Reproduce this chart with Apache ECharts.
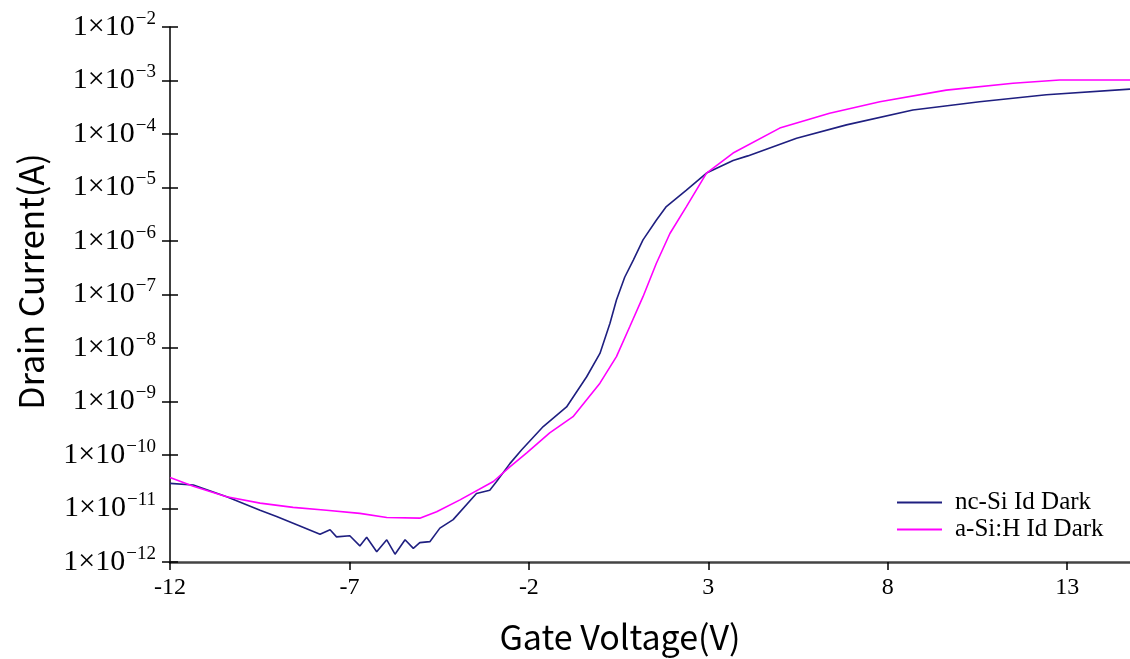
<!DOCTYPE html>
<html>
<head>
<meta charset="utf-8">
<script src="https://cdn.jsdelivr.net/npm/echarts@6/dist/echarts.min.js"></script>
<style>
  html, body { margin: 0; padding: 0; background: #fff; }
  #chart { width: 1130px; height: 659px; }
</style>
</head>
<body>
<div id="chart"></div>
<script>
// gate voltage (V) and drain current (A)
const ncSiVg = [-12, -11.35, -10.42, -9.49, -9.03, -8.38, -7.82, -7.54, -7.36, -6.99, -6.71, -6.52, -6.24,
  -5.96, -5.73, -5.45, -5.22, -5.04, -4.76, -4.48, -4.11, -3.46, -3.09, -2.9, -2.53, -2.2, -1.6, -0.95,
  -0.39, -0.02, 0.26, 0.44, 0.67, 0.91, 1.18, 1.55, 1.83, 2.39, 2.95, 3.69, 4.1, 5.46, 6.85, 8.7, 10.56,
  12.42, 14.75];
const ncSiId = [2.95e-11, 2.75e-11, 1.66e-11, 9.3e-12, 7.1e-12, 4.7e-12, 3.3e-12, 4.0e-12, 2.95e-12, 3.1e-12,
  2.0e-12, 2.9e-12, 1.55e-12, 2.6e-12, 1.4e-12, 2.6e-12, 1.8e-12, 2.3e-12, 2.4e-12, 4.3e-12, 6.2e-12,
  1.9e-11, 2.2e-11, 3.2e-11, 6.9e-11, 1.25e-10, 3.4e-10, 7.9e-10, 2.9e-9, 7.9e-9, 2.9e-8, 7.9e-8, 2.1e-7,
  4.4e-7, 1.05e-6, 2.45e-6, 4.4e-6, 8.9e-6, 1.86e-5, 3.2e-5, 3.9e-5, 8.3e-5, 1.48e-4, 2.8e-4, 4.0e-4,
  5.4e-4, 6.9e-4];

const aSiVg = [-12, -11.35, -10.42, -9.49, -8.57, -7.64, -6.71, -5.96, -5.04, -4.57, -3.92, -2.99, -2.53,
  -2.06, -1.42, -0.77, -0.02, 0.44, 0.81, 1.18, 1.55, 1.93, 2.39, 2.95, 3.69, 4.99, 6.38, 7.78, 9.63,
  11.49, 12.79, 14.75];
const aSiId = [3.8e-11, 2.6e-11, 1.66e-11, 1.26e-11, 1.05e-11, 9.3e-12, 8.1e-12, 6.8e-12, 6.6e-12, 8.7e-12,
  1.45e-11, 3.2e-11, 6.0e-11, 1.1e-10, 2.6e-10, 5.2e-10, 2.2e-9, 6.9e-9, 2.5e-8, 9.1e-8, 3.8e-7, 1.38e-6,
  4.4e-6, 1.86e-5, 4.4e-5, 1.29e-4, 2.45e-4, 4.0e-4, 6.6e-4, 8.9e-4, 1.02e-3, 1.02e-3];

const seriesNames = ['nc-Si Id Dark', 'a-Si:H Id Dark'];

const zip = (xs, ys) => xs.map((x, i) => [x, ys[i]]);

const chart = echarts.init(document.getElementById('chart'));

const logLabel = (v) => {
  const e = Math.round(Math.log10(v));
  return '{a|1\u00d710}{b|\u2212' + (-e) + '}';
};

chart.setOption({
  animation: false,
  grid: { left: 170, right: 0, top: 27, bottom: 97 },
  legend: {
    orient: 'vertical',
    left: 897,
    top: 490,
    padding: 0,
    itemGap: 2,
    itemWidth: 45,
    itemHeight: 2,
    icon: 'rect',
    textStyle: { fontFamily: 'Liberation Serif', fontSize: 25, color: '#000', padding: [0, 0, 0, 8] },
    data: seriesNames
  },
  xAxis: {
    type: 'value',
    min: -12,
    max: 14.75,
    interval: 5,
    name: 'Gate Voltage(V)',
    nameLocation: 'middle',
    nameGap: 58,
    nameTextStyle: { fontFamily: 'Noto Sans CJK SC', fontSize: 34, color: '#000', padding: [0, 60, 0, 0] },
    axisLine: { show: true, onZero: false, lineStyle: { color: '#444', width: 2.5 } },
    axisTick: { length: 8, lineStyle: { color: '#000', width: 1.5 } },
    axisLabel: { fontFamily: 'Liberation Serif', fontSize: 24, color: '#000', margin: 14, showMaxLabel: false },
    splitLine: { show: false }
  },
  yAxis: [{
    type: 'log',
    logBase: 10,
    min: 1e-12,
    max: 1e-2,
    name: 'Drain Current(A)',
    nameLocation: 'middle',
    nameGap: 122,
    nameTextStyle: { fontFamily: 'Noto Sans CJK SC', fontSize: 34, color: '#000', padding: [0, 0, 0, 26] },
    axisLine: { show: true, onZero: false, lineStyle: { color: '#000', width: 1.5 } },
    axisTick: { length: 8, lineStyle: { color: '#000', width: 1.5 } },
    axisLabel: {
      margin: 14,
      formatter: logLabel,
      rich: {
        a: { fontFamily: 'Liberation Serif', fontSize: 30, color: '#000' },
        b: { fontFamily: 'Liberation Serif', fontSize: 19, color: '#000', padding: [0, 0, 16, 1] }
      }
    },
    minorTick: { show: false },
    splitLine: { show: false }
  }, {
    // second copy of the axis, only for the inner half of the crossing ticks
    type: 'log',
    logBase: 10,
    min: 1e-12,
    max: 1e-2,
    position: 'left',
    axisLine: { show: false, onZero: false },
    axisTick: { inside: true, length: 8, lineStyle: { color: '#000', width: 1.5 } },
    axisLabel: { show: false },
    splitLine: { show: false }
  }],
  series: [
    {
      name: seriesNames[0],
      type: 'line',
      showSymbol: false,
      data: zip(ncSiVg, ncSiId),
      itemStyle: { color: '#1f1f80' },
      lineStyle: { color: '#1f1f80', width: 1.6 }
    },
    {
      name: seriesNames[1],
      type: 'line',
      showSymbol: false,
      data: zip(aSiVg, aSiId),
      itemStyle: { color: '#ff00ff' },
      lineStyle: { color: '#ff00ff', width: 1.6 }
    }
  ]
});
</script>
</body>
</html>
